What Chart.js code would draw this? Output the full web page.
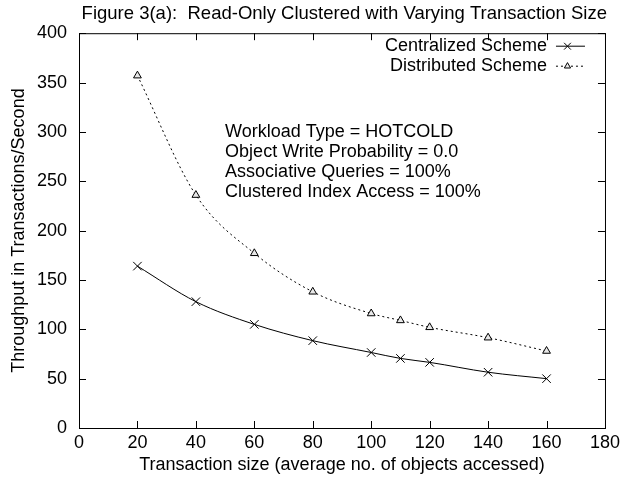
<!DOCTYPE html>
<html>
<head>
<meta charset="utf-8">
<script src="https://cdn.jsdelivr.net/npm/chart.js@4/dist/chart.umd.min.js"></script>
<style>
  html, body { margin: 0; padding: 0; background: #fff; }
  #wrap { width: 624px; height: 481px; position: relative; }
</style>
</head>
<body>
<div id="wrap"><canvas id="fig"></canvas></div>
<script>
const txSize = [20, 40, 60, 80, 100, 110, 120, 140, 160];
const centralized = [164, 128, 105, 88.5, 76.5, 70.5, 66.5, 56.5, 50];
const distributed = [357, 236, 177, 138, 116, 109, 102, 91.5, 78];
const seriesNames = ['Centralized Scheme', 'Distributed Scheme'];
const infoLines = [
    'Workload Type = HOTCOLD',
    'Object Write Probability = 0.0',
    'Associative Queries = 100%',
    'Clustered Index Access = 100%'
];
const FONT = '"Liberation Sans", Arial, sans-serif';

const toPoints = ys => txSize.map((x, i) => ({ x: x, y: ys[i] }));

// gnuplot style: tics point inward on all four sides, full border box
const frameTicks = {
    id: 'frameTicks',
    afterDraw(chart) {
        const { ctx, chartArea: a, scales } = chart;
        const len = 7;
        ctx.save();
        ctx.strokeStyle = '#000';
        ctx.lineWidth = 1;
        ctx.strokeRect(a.left + 0.5, a.top + 0.5, a.right - a.left, a.bottom - a.top);
        ctx.beginPath();
        scales.x.ticks.forEach(t => {
            const px = Math.round(scales.x.getPixelForValue(t.value)) + 0.5;
            ctx.moveTo(px, a.bottom); ctx.lineTo(px, a.bottom - len);
            ctx.moveTo(px, a.top); ctx.lineTo(px, a.top + len);
        });
        scales.y.ticks.forEach(t => {
            const py = Math.round(scales.y.getPixelForValue(t.value)) + 0.5;
            ctx.moveTo(a.left, py); ctx.lineTo(a.left + len, py);
            ctx.moveTo(a.right, py); ctx.lineTo(a.right - len, py);
        });
        ctx.stroke();
        ctx.restore();
    }
};

// key in the top right corner: label first, then line sample with marker
const keyBox = {
    id: 'keyBox',
    afterDraw(chart) {
        const { ctx, chartArea: a } = chart;
        ctx.save();
        ctx.font = '18px ' + FONT;
        ctx.fillStyle = '#000';
        ctx.textAlign = 'right';
        ctx.textBaseline = 'middle';
        chart.data.datasets.forEach((ds, i) => {
            const y = a.top + 13 + i * 20;
            const x1 = a.right - 49, x2 = a.right - 20;
            ctx.fillText(ds.label, x1 - 9, y);
            ctx.strokeStyle = '#000';
            ctx.lineWidth = 1;
            ctx.setLineDash(ds.borderDash || []);
            ctx.beginPath();
            ctx.moveTo(x1, y); ctx.lineTo(x2, y);
            ctx.stroke();
            ctx.setLineDash([]);
            ctx.fillStyle = ds.pointBackgroundColor || '#000';
            Chart.helpers.drawPoint(ctx, {
                pointStyle: ds.pointStyle,
                radius: ds.pointRadius * 0.8,
                borderWidth: 1
            }, (x1 + x2) / 2 - 3, y);
            ctx.fillStyle = '#000';
        });
        ctx.restore();
    }
};

const infoText = {
    id: 'infoText',
    afterDraw(chart) {
        const { ctx, scales } = chart;
        ctx.save();
        ctx.font = '18px ' + FONT;
        ctx.fillStyle = '#000';
        ctx.textAlign = 'left';
        ctx.textBaseline = 'middle';
        const x0 = scales.x.getPixelForValue(50);
        const y0 = scales.y.getPixelForValue(300);
        infoLines.forEach((line, i) => {
            ctx.fillText(line, x0, y0 + i * 20);
        });
        ctx.restore();
    }
};

const ctx = document.getElementById('fig').getContext('2d');
new Chart(ctx, {
    type: 'scatter',
    data: {
        datasets: [
            {
                label: seriesNames[0],
                data: toPoints(centralized),
                showLine: true,
                borderColor: '#000',
                borderWidth: 1,
                cubicInterpolationMode: 'monotone',
                pointStyle: 'crossRot',
                pointRadius: 6,
                pointBorderColor: '#000',
                pointBorderWidth: 1
            },
            {
                label: seriesNames[1],
                data: toPoints(distributed),
                showLine: true,
                borderColor: '#000',
                borderWidth: 1,
                borderDash: [2, 3],
                cubicInterpolationMode: 'monotone',
                pointStyle: 'triangle',
                pointRadius: 4.5,
                pointBorderColor: '#000',
                pointBackgroundColor: '#e8e8e8',
                pointBorderWidth: 1
            }
        ]
    },
    options: {
        responsive: true,
        maintainAspectRatio: false,
        animation: false,
        layout: { padding: { left: 0, right: 17, top: 0, bottom: 0 } },
        scales: {
            x: {
                type: 'linear',
                min: 0, max: 180,
                afterFit: s => { s.height = 53; },
                grid: { display: false, drawTicks: false },
                border: { display: false },
                ticks: { stepSize: 20, color: '#000', padding: 4, font: { family: FONT, size: 18 } },
                title: {
                    display: true,
                    text: 'Transaction size (average no. of objects accessed)',
                    color: '#000',
                    padding: 5,
                    font: { family: FONT, size: 18 }
                }
            },
            y: {
                min: 0, max: 400,
                afterFit: s => { s.width = 79; },
                grid: { display: false, drawTicks: false },
                border: { display: false },
                ticks: { stepSize: 50, color: '#000', padding: 12, font: { family: FONT, size: 18 } },
                title: {
                    display: true,
                    text: 'Throughput in Transactions/Second',
                    color: '#000',
                    padding: 8,
                    font: { family: FONT, size: 18 }
                }
            }
        },
        plugins: {
            legend: { display: false },
            tooltip: { enabled: false },
            title: {
                display: true,
                align: 'end',
                text: 'Figure 3(a):  Read-Only Clustered with Varying Transaction Size',
                color: '#000',
                font: { family: FONT, size: 18.5, weight: 'normal' },
                padding: { top: 3, bottom: 8 }
            }
        }
    },
    plugins: [frameTicks, keyBox, infoText]
});
</script>
</body>
</html>
